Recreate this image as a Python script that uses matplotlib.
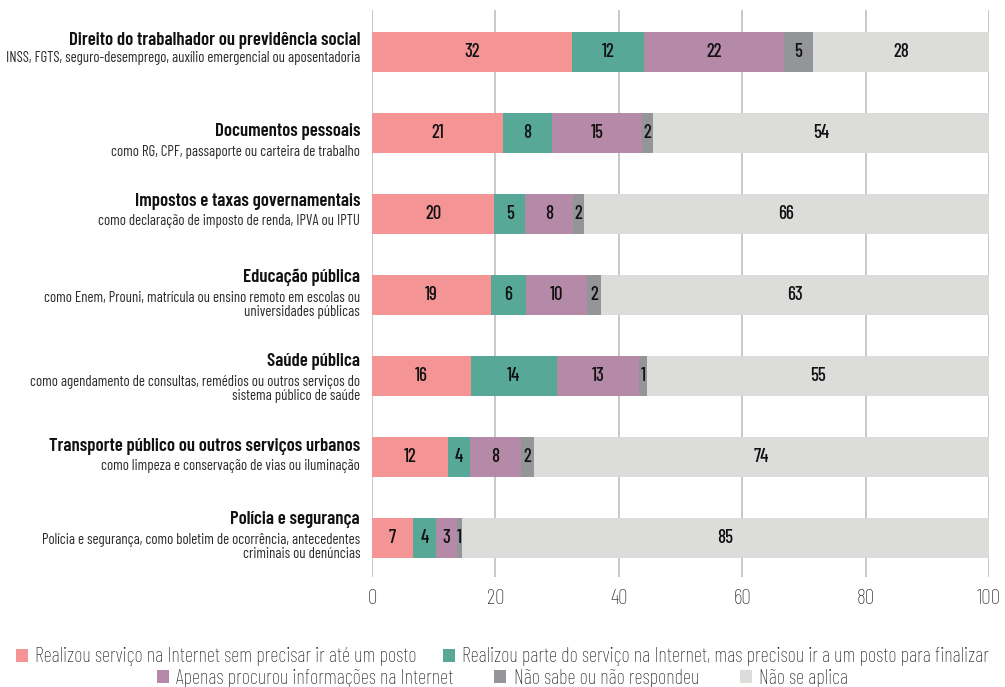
import matplotlib
matplotlib.use("Agg")
import matplotlib.pyplot as plt
from matplotlib.patches import Patch
import numpy as np

FONT = "Barlow Condensed"
plt.rcParams["font.family"] = [FONT, "DejaVu Sans"]

titles = [
    "Direito do trabalhador ou previdência social",
    "Documentos pessoais",
    "Impostos e taxas governamentais",
    "Educação pública",
    "Saúde pública",
    "Transporte público ou outros serviços urbanos",
    "Polícia e segurança",
]
subtitles = [
    "INSS, FGTS, seguro-desemprego, auxílio emergencial ou aposentadoria",
    "como RG, CPF, passaporte ou carteira de trabalho",
    "como declaração de imposto de renda, IPVA ou IPTU",
    "como Enem, Prouni, matrícula ou ensino remoto em escolas ou\nuniversidades públicas",
    "como agendamento de consultas, remédios ou outros serviços do\nsistema público de saúde",
    "como limpeza e conservação de vias ou iluminação",
    "Polícia e segurança, como boletim de ocorrência, antecedentes\ncriminais ou denúncias",
]

series_names = [
    "Realizou serviço na Internet sem precisar ir até um posto",
    "Realizou parte do serviço na Internet, mas precisou ir a um posto para finalizar",
    "Apenas procurou informações na Internet",
    "Não sabe ou não respondeu",
    "Não se aplica",
]

s_online = [32.4, 21.2, 19.8, 19.3, 16.0, 12.3, 6.6]
s_parte = [11.7, 8.0, 5.0, 5.6, 14.0, 3.6, 3.8]
s_info = [22.6, 14.5, 7.7, 9.9, 13.3, 8.2, 3.3]
s_ns = [4.8, 1.9, 1.8, 2.3, 1.3, 2.2, 0.9]
s_na = [28.5, 54.4, 65.7, 62.9, 55.4, 73.7, 85.4]

lab_online = [32, 21, 20, 19, 16, 12, 7]
lab_parte = [12, 8, 5, 6, 14, 4, 4]
lab_info = [22, 15, 8, 10, 13, 8, 3]
lab_ns = [5, 2, 2, 2, 1, 2, 1]
lab_na = [28, 54, 66, 63, 55, 74, 85]

xticks = [0, 20, 40, 60, 80, 100]

colors = ["#f59495", "#57a896", "#b589a8", "#949598", "#dcdcdb"]

# layout: vertical offsets (pixels, downward) of title and subtitle centres
title_dy = [-12, -2, -13, -18, -15, -11, -19]
sub_dy = [6, 19, 7, 10, 13, 9, 9]

fig = plt.figure(figsize=(10.05, 6.87), dpi=100)
ax = fig.add_axes([372 / 1005, 1 - 577 / 687, 617 / 1005, 567 / 687])

series = [s_online, s_parte, s_info, s_ns, s_na]
labels = [lab_online, lab_parte, lab_info, lab_ns, lab_na]
y = np.arange(len(titles))
left = np.zeros(len(titles))
for vals, labs, col in zip(series, labels, colors):
    vals = np.array(vals)
    bars = ax.barh(y, vals, left=left, height=0.49, color=col, zorder=3, linewidth=0)
    for b, v, l in zip(bars, vals, labs):
        ax.text(b.get_x() + b.get_width() / 2, b.get_y() + b.get_height() / 2, str(l),
                ha="center", va="center", fontsize=13.5, fontweight="medium",
                color="#111111", zorder=4)
    left += vals

ax.set_xlim(0, 100)
ax.set_ylim(6.48, -0.52)
ax.set_xticks(xticks)
ax.set_xticklabels([str(t) for t in xticks], fontsize=15.5, fontweight="light", color="#222222")
ax.set_yticks([])
ax.tick_params(axis="x", length=0, pad=9)
for s in ax.spines.values():
    s.set_visible(False)
ax.grid(axis="x", color="#c4c4c4", linewidth=1.3, zorder=0)
ax.set_axisbelow(True)

ytr = ax.get_yaxis_transform()
for i in range(len(titles)):
    ax.annotate(titles[i], xy=(0, i), xycoords=ytr, xytext=(-12, -title_dy[i]),
                textcoords="offset pixels", ha="right", va="center",
                fontsize=13.5, fontweight="semibold", color="#111111", annotation_clip=False)
    ax.annotate(subtitles[i], xy=(0, i), xycoords=ytr, xytext=(-12, -sub_dy[i]),
                textcoords="offset pixels", ha="right", va="center", linespacing=1.0,
                fontsize=10.65, fontweight="normal", color="#2a2a2a", annotation_clip=False)

handles = [Patch(facecolor=c, edgecolor="none") for c in colors]
leg_kw = dict(loc="center", frameon=False, fontsize=14.7, handlelength=0.6, handleheight=0.6,
              handletextpad=0.35, borderaxespad=0, borderpad=0)
leg1 = fig.legend(handles[:2], series_names[:2], bbox_to_anchor=(0.5, 1 - 657 / 687),
                  ncol=2, columnspacing=1.3, **leg_kw)
leg2 = fig.legend(handles[2:], series_names[2:], bbox_to_anchor=(0.5, 1 - 678 / 687),
                  ncol=3, columnspacing=2.0, **leg_kw)
for leg in (leg1, leg2):
    for t in leg.get_texts():
        t.set_fontweight("light")
        t.set_color("#222222")

fig.savefig("out.png", dpi=100)
